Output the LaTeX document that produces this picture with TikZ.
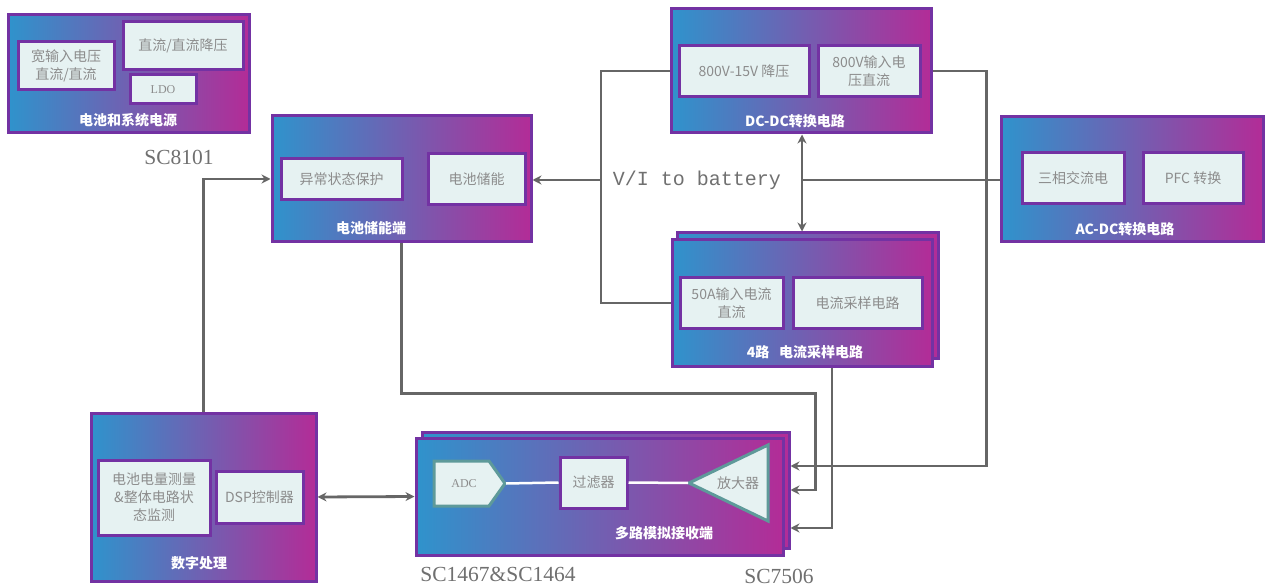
\documentclass[tikz,border=0pt]{standalone}
\usepackage{fontspec}
\setmainfont{Liberation Serif}
\setmonofont{Liberation Mono}
\newfontfamily\cjk{Noto Sans CJK SC}
\usetikzlibrary{arrows.meta}

\definecolor{blockblue}{HTML}{2F93CC}
\definecolor{blockpink}{HTML}{B32C97}
\definecolor{blockedge}{HTML}{7332A3}
\definecolor{innerfill}{HTML}{E6F2F2}
\definecolor{innertext}{HTML}{8C8C8C}
\definecolor{wiregray}{HTML}{666666}
\definecolor{tealedge}{HTML}{5E9A9A}
\definecolor{chiptext}{HTML}{707070}

\tikzset{
  block/.style={draw=blockedge, line width=3pt, left color=blockblue, right color=blockpink, inner sep=0pt},
  inner/.style={draw=blockedge, line width=3pt, fill=innerfill, text=innertext, align=center, inner sep=0pt,
    font=\cjk\fontsize{14}{18}\selectfont},
  tealbox/.style={draw=tealedge, line width=3pt, fill=innerfill, line join=miter},
  blocklabel/.style={text=white, font=\cjk\bfseries\fontsize{14}{16}\selectfont},
  chip/.style={text=chiptext, font=\fontsize{21.5}{22}\selectfont},
  wire/.style={draw=wiregray, line width=2.8pt},
  arr/.style={wire, -{Stealth[length=9pt,width=9pt]}},
  dblarr/.style={wire, {Stealth[length=9pt,width=9pt]}-{Stealth[length=9pt,width=9pt]}},
  whiteline/.style={draw=white, line width=2.5pt}
}

\begin{document}
\begin{tikzpicture}[x=1pt,y=-1pt]
  \useasboundingbox[fill=white] (0,0) rectangle (1267,588);

  % blocks
  \node[block, minimum width=241, minimum height=118] (pwr) at (128.5,74) {};
  \node[block, minimum width=259, minimum height=126] (bat) at (401.5,179) {};
  \node[block, minimum width=260, minimum height=124] (dcdc) at (801,71) {};
  \node[block, minimum width=262, minimum height=125] (acdc) at (1132,179.5) {};
  \node[block, minimum width=261, minimum height=125] (sampb) at (807.5,295.5) {};
  \node[block, minimum width=260, minimum height=126] (samp) at (802,303) {};
  \node[block, minimum width=225, minimum height=168] (dsp) at (203.5,497) {};
  \node[block, minimum width=367, minimum height=116] (rxb) at (605.5,490) {};
  \node[block, minimum width=367, minimum height=117] (rx) at (599.5,496.5) {};

  % inner boxes
  \node[inner, minimum width=96, minimum height=48] (pwr1) at (66,66) {宽输入电压\\直流/直流};
  \node[inner, minimum width=120, minimum height=48] (pwr2) at (183,46) {直流/直流降压};
  \node[inner, minimum width=66, minimum height=29, font=\fontsize{12}{14}\selectfont] (pwr3) at (163,89.5) {LDO};
  \node[inner, minimum width=121, minimum height=41] (bat1) at (341.5,179.5) {异常状态保护};
  \node[inner, minimum width=97, minimum height=51] (bat2) at (476.5,179.5) {电池储能};
  \node[inner, minimum width=130, minimum height=51] (dc1) at (744,71.5) {800V-15V 降压};
  \node[inner, minimum width=102, minimum height=51] (dc2) at (869,71.5) {800V输入电\\压直流};
  \node[inner, minimum width=102, minimum height=51] (ac1) at (1073,178.5) {三相交流电};
  \node[inner, minimum width=100, minimum height=51] (ac2) at (1193,178.5) {PFC 转换};
  \node[inner, minimum width=103, minimum height=50] (s1) at (731.5,303) {50A输入电流\\直流};
  \node[inner, minimum width=129, minimum height=50] (s2) at (857.5,303) {电流采样电路};
  \node[inner, minimum width=112, minimum height=75] (d1) at (154,497.5) {电池电量测量\\\&整体电路状\\态监测};
  \node[inner, minimum width=87, minimum height=52] (d2) at (259.5,497) {DSP控制器};
  \node[inner, minimum width=67, minimum height=51] (filt) at (593.5,482.5) {过滤器};

  % receiver chain
  \draw[tealbox] (434,461) -- (489,461) -- (505,483.5) -- (489,506) -- (434,506) -- cycle;
  \node[text=innertext, font=\fontsize{12}{14}\selectfont] (adc) at (464,483.5) {ADC};
  \coordinate (adctip) at (506,483.5);
  \draw[tealbox] (768,445) -- (768,521) -- (689,483) -- cycle;
  \node[text=innertext, font=\cjk\fontsize{14}{16}\selectfont] (amp) at (738,483) {放大器};
  \coordinate (amptip) at (688,483);
  \draw[whiteline] (adctip) -- (filt.west);
  \draw[whiteline] (filt.east) -- (amptip);

  % block labels
  \node[blocklabel] (pwrlab) at (128,120) {电池和系统电源};
  \node[blocklabel] (batlab) at (371,228) {电池储能端};
  \node[blocklabel] (dcdclab) at (795,121) {DC-DC转换电路};
  \node[blocklabel] (acdclab) at (1125,229) {AC-DC转换电路};
  \node[blocklabel] (samplab) at (805,352) {4路\hspace{0.7em}电流采样电路};
  \node[blocklabel] (dsplab) at (199,563) {数字处理};
  \node[blocklabel] (rxlab) at (664,533) {多路模拟接收端};

  % part numbers
  \node[chip] (c8101) at (179,157) {SC8101};
  \node[chip] (c1467) at (498,574) {SC1467\&SC1464};
  \node[chip] (c7506) at (779,576) {SC7506};
  \node[text=chiptext, font=\ttfamily\fontsize{20}{20}\selectfont] (vi) at (697,180) {V/I to battery};

  % connectors
  \coordinate (jl) at (601,180);
  \coordinate (jr) at (802,180);
  \draw[arr] (dsp.north) |- (bat.west);
  \draw[dblarr] (dsp.east) -- (rx.west);
  \draw[wire] (dcdc.west) -| (jl) |- (samp.west);
  \draw[arr] (jl) -- (jl -| bat.east);
  \draw[wire] (jr -| acdc.west) -- (jr);
  \draw[arr] (jr) -- (dcdc.south -| jr);
  \draw[arr] (jr) -- (sampb.north -| jr);
  \draw[arr] (dcdc.east) -| ([xshift=196pt,yshift=24pt]rxb.east) -- ([yshift=24pt]rxb.east);
  \draw[arr] (bat.south) -- ++(0,150) -| ([xshift=25pt]rxb.east) -- (rxb.east);
  \draw[arr] ([xshift=30pt]samp.south) |- ([yshift=-38pt]rxb.east);
\end{tikzpicture}
\end{document}
